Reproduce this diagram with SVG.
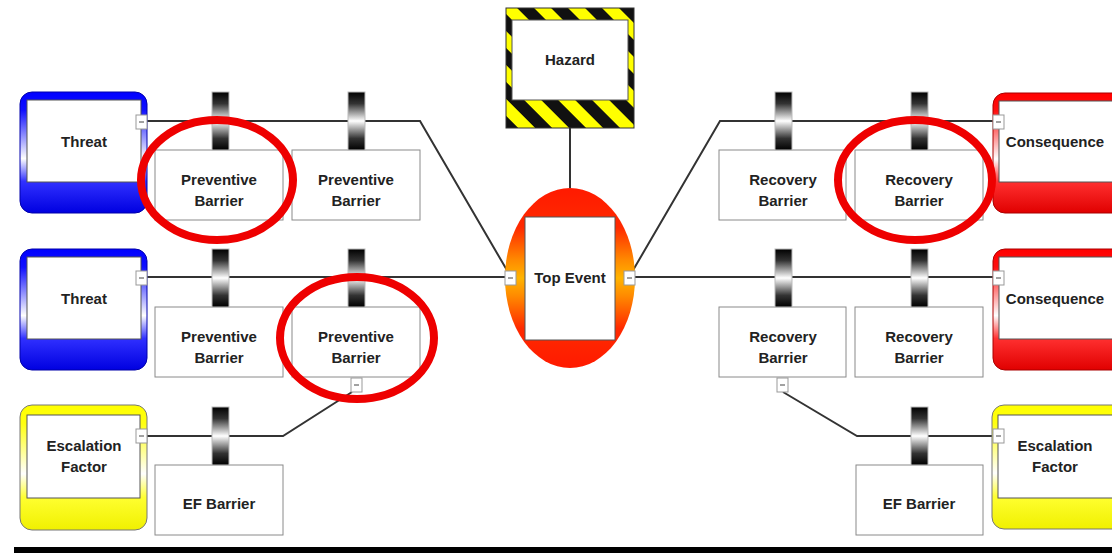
<svg xmlns="http://www.w3.org/2000/svg" width="1112" height="553" viewBox="0 0 1112 553">
<defs>
<style>
.lbl{font-family:"Liberation Sans",Arial,sans-serif;font-weight:bold;font-size:15px;fill:#222;text-anchor:middle}
.box{fill:#fff;stroke:#8a8a8a;stroke-width:1}
.inner{fill:#fff;stroke:#555;stroke-width:1}
.con{fill:none;stroke:#333;stroke-width:2}
.post{fill:url(#postG);stroke:#bbb;stroke-width:1}
.cb{fill:#fff;stroke:#999;stroke-width:1}
.cbm{stroke:#444;stroke-width:1}
.ring{fill:none;stroke:#ee0000;stroke-width:8}
</style>
<linearGradient id="postG" x1="0" y1="0" x2="0" y2="1">
<stop offset="0" stop-color="#000"/><stop offset="0.2" stop-color="#333"/><stop offset="0.5" stop-color="#fff"/><stop offset="0.8" stop-color="#333"/><stop offset="1" stop-color="#000"/>
</linearGradient>
<linearGradient id="blueG" x1="0" y1="0" x2="0" y2="1">
<stop offset="0" stop-color="#0000ff"/><stop offset="0.15" stop-color="#1010ff"/><stop offset="0.55" stop-color="#ffffff"/><stop offset="0.74" stop-color="#3030ff"/><stop offset="1" stop-color="#0000e0"/>
</linearGradient>
<linearGradient id="redG" x1="0" y1="0" x2="0" y2="1">
<stop offset="0" stop-color="#ff0000"/><stop offset="0.15" stop-color="#ff1010"/><stop offset="0.55" stop-color="#ffffff"/><stop offset="0.74" stop-color="#ff3030"/><stop offset="1" stop-color="#e00000"/>
</linearGradient>
<linearGradient id="yelG" x1="0" y1="0" x2="0" y2="1">
<stop offset="0" stop-color="#ffff00"/><stop offset="0.15" stop-color="#ffff10"/><stop offset="0.55" stop-color="#ffffff"/><stop offset="0.74" stop-color="#ffff30"/><stop offset="1" stop-color="#f0f000"/>
</linearGradient>
<linearGradient id="topG" x1="0" y1="0" x2="0" y2="1">
<stop offset="0" stop-color="#ff1a00"/><stop offset="0.22" stop-color="#ff2a00"/><stop offset="0.4" stop-color="#ff8a00"/><stop offset="0.5" stop-color="#ffb400"/><stop offset="0.6" stop-color="#ff8a00"/><stop offset="0.78" stop-color="#ff2a00"/><stop offset="1" stop-color="#ff1a00"/>
</linearGradient>
<pattern id="stripes" patternUnits="userSpaceOnUse" width="24" height="24" patternTransform="rotate(-45)">
<rect width="24" height="24" fill="#ffff00"/><rect width="12" height="24" fill="#111"/>
</pattern>
</defs>
<rect width="1112" height="553" fill="#fff"/>

<g id="connectors">
<polyline class="con" points="147,121 420,121 508,272"/>
<line class="con" x1="147" y1="277" x2="506" y2="277"/>
<polyline class="con" points="147,436 283,436 352,392"/>
<line class="con" x1="570" y1="128" x2="570" y2="188"/>
<polyline class="con" points="993,121 720,121 632,272"/>
<line class="con" x1="634" y1="277" x2="993" y2="277"/>
<polyline class="con" points="783,392 857,436 993,436"/>
</g>

<g id="hazard">
<rect x="506" y="8" width="128" height="120" fill="url(#stripes)" stroke="#333" stroke-width="1"/>
<rect x="512" y="20" width="116" height="80" class="inner"/>
<text class="lbl" x="570" y="65">Hazard</text>
</g>

<g id="top-event">
<ellipse cx="570" cy="278" rx="65" ry="90" fill="url(#topG)"/>
<rect x="525" y="217" width="90" height="123" class="inner"/>
<text class="lbl" x="570" y="283">Top Event</text>
<rect class="cb" x="505" y="271" width="11" height="14"/><line class="cbm" x1="508" y1="278" x2="513" y2="278"/>
<rect class="cb" x="624" y="271" width="11" height="14"/><line class="cbm" x1="627" y1="278" x2="632" y2="278"/>
</g>

<g id="threat-1">
<rect x="20" y="92" width="127" height="121" rx="12" fill="url(#blueG)" stroke="#0000aa" stroke-width="1"/>
<rect x="27" y="100" width="114" height="82" class="inner" stroke="#999"/>
<text class="lbl" x="84" y="147">Threat</text>
<rect class="cb" x="136" y="115" width="11" height="14"/><line class="cbm" x1="139" y1="122" x2="144" y2="122"/>
</g>
<g id="threat-2">
<rect x="20" y="249" width="127" height="121" rx="12" fill="url(#blueG)" stroke="#0000aa" stroke-width="1"/>
<rect x="27" y="257" width="114" height="82" class="inner" stroke="#999"/>
<text class="lbl" x="84" y="304">Threat</text>
<rect class="cb" x="136" y="271" width="11" height="14"/><line class="cbm" x1="139" y1="278" x2="144" y2="278"/>
</g>
<g id="escalation-factor-left">
<rect x="20" y="405" width="127" height="125" rx="12" fill="url(#yelG)" stroke="#777" stroke-width="1"/>
<rect x="27" y="415" width="113" height="83" class="inner"/>
<text class="lbl" x="84" y="451">Escalation</text>
<text class="lbl" x="84" y="472">Factor</text>
<rect class="cb" x="136" y="429" width="11" height="14"/><line class="cbm" x1="139" y1="436" x2="144" y2="436"/>
</g>

<g id="preventive-barrier-1a">
<rect class="box" x="155" y="150" width="128" height="70"/>
<rect class="post" x="212" y="92" width="17" height="58"/>
<text class="lbl" x="219" y="185">Preventive</text><text class="lbl" x="219" y="206">Barrier</text>
</g>
<g id="preventive-barrier-1b">
<rect class="box" x="292" y="150" width="128" height="70"/>
<rect class="post" x="348" y="92" width="17" height="58"/>
<text class="lbl" x="356" y="185">Preventive</text><text class="lbl" x="356" y="206">Barrier</text>
</g>
<g id="preventive-barrier-2a">
<rect class="box" x="155" y="307" width="128" height="70"/>
<rect class="post" x="212" y="249" width="17" height="58"/>
<text class="lbl" x="219" y="342">Preventive</text><text class="lbl" x="219" y="363">Barrier</text>
</g>
<g id="preventive-barrier-2b">
<rect class="box" x="292" y="307" width="128" height="70"/>
<rect class="post" x="348" y="249" width="17" height="58"/>
<text class="lbl" x="356" y="342">Preventive</text><text class="lbl" x="356" y="363">Barrier</text>
<rect class="cb" x="351" y="378" width="11" height="14"/><line class="cbm" x1="354" y1="385" x2="359" y2="385"/>
</g>
<g id="ef-barrier-left">
<rect class="box" x="155" y="465" width="128" height="70"/>
<rect class="post" x="212" y="407" width="17" height="58"/>
<text class="lbl" x="219" y="509">EF Barrier</text>
</g>

<g id="recovery-barrier-1a">
<rect class="box" x="719" y="150" width="127" height="70"/>
<rect class="post" x="775" y="92" width="17" height="58"/>
<text class="lbl" x="783" y="185">Recovery</text><text class="lbl" x="783" y="206">Barrier</text>
</g>
<g id="recovery-barrier-1b">
<rect class="box" x="855" y="150" width="128" height="70"/>
<rect class="post" x="911" y="92" width="17" height="58"/>
<text class="lbl" x="919" y="185">Recovery</text><text class="lbl" x="919" y="206">Barrier</text>
</g>
<g id="recovery-barrier-2a">
<rect class="box" x="719" y="307" width="127" height="70"/>
<rect class="post" x="775" y="249" width="17" height="58"/>
<text class="lbl" x="783" y="342">Recovery</text><text class="lbl" x="783" y="363">Barrier</text>
<rect class="cb" x="777" y="378" width="11" height="14"/><line class="cbm" x1="780" y1="385" x2="785" y2="385"/>
</g>
<g id="recovery-barrier-2b">
<rect class="box" x="855" y="307" width="128" height="70"/>
<rect class="post" x="911" y="249" width="17" height="58"/>
<text class="lbl" x="919" y="342">Recovery</text><text class="lbl" x="919" y="363">Barrier</text>
</g>
<g id="ef-barrier-right">
<rect class="box" x="856" y="465" width="127" height="70"/>
<rect class="post" x="911" y="407" width="17" height="58"/>
<text class="lbl" x="919" y="509">EF Barrier</text>
</g>

<g id="consequence-1">
<rect x="993" y="93" width="140" height="120" rx="12" fill="url(#redG)" stroke="#aa0000" stroke-width="1"/>
<rect x="999" y="101" width="130" height="81" class="inner" stroke="#999"/>
<text class="lbl" x="1055" y="147">Consequence</text>
<rect class="cb" x="993" y="115" width="11" height="14"/><line class="cbm" x1="996" y1="122" x2="1001" y2="122"/>
</g>
<g id="consequence-2">
<rect x="993" y="249" width="140" height="121" rx="12" fill="url(#redG)" stroke="#aa0000" stroke-width="1"/>
<rect x="999" y="257" width="130" height="82" class="inner" stroke="#999"/>
<text class="lbl" x="1055" y="304">Consequence</text>
<rect class="cb" x="993" y="271" width="11" height="14"/><line class="cbm" x1="996" y1="278" x2="1001" y2="278"/>
</g>
<g id="escalation-factor-right">
<rect x="992" y="405" width="140" height="124" rx="12" fill="url(#yelG)" stroke="#777" stroke-width="1"/>
<rect x="998" y="415" width="130" height="83" class="inner"/>
<text class="lbl" x="1055" y="451">Escalation</text>
<text class="lbl" x="1055" y="472">Factor</text>
<rect class="cb" x="993" y="429" width="11" height="14"/><line class="cbm" x1="996" y1="436" x2="1001" y2="436"/>
</g>

<g id="highlights">
<ellipse class="ring" cx="217" cy="180" rx="76" ry="60"/>
<ellipse class="ring" cx="357" cy="338" rx="77" ry="61"/>
<ellipse class="ring" cx="915" cy="180" rx="77" ry="60"/>
</g>

<rect x="14" y="547" width="1098" height="6" fill="#000"/>
</svg>
